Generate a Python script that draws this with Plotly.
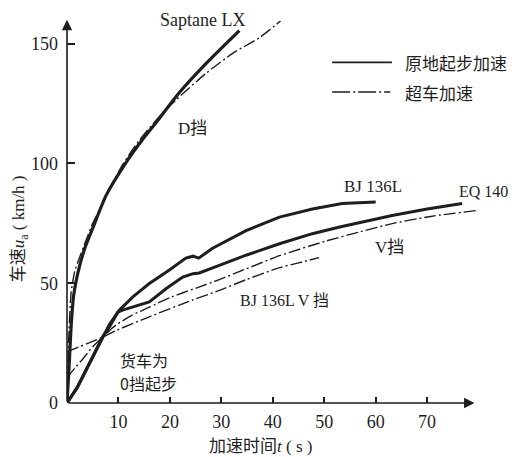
import plotly.graph_objects as go

# ---------------- data ----------------
# Saptane LX, standing-start acceleration (solid)
sapt_t = [0, 0.4, 0.8, 1.3, 2.4, 3.6, 5, 7.6, 11.5, 14.5, 17.3, 21.8, 27, 33.5]
sapt_v = [0, 15, 32, 45, 56.8, 65.5, 73, 86.7, 100.5, 109.5, 117, 129.5, 141.7, 155.5]
# Saptane LX, D gear overtaking acceleration (dash-dot)
saptd_t = [0, 0.3, 0.8, 1.5, 2.4, 3.7, 5, 6.3, 8, 10.8, 14, 17.5, 21.2, 27, 32.2, 37.4, 41.5]
saptd_v = [0, 25, 46, 55, 60.5, 68, 75, 80.5, 88, 99.5, 109.5, 118.5, 126.6, 137.6, 146, 152.5, 159.5]
# BJ 136L standing start (solid)
bj_t = [0, 2, 4.4, 6.9, 8.3, 10.2, 12.8, 16, 19.9, 23.1, 24.5, 25.6, 28.3, 34.8, 41.3, 47.7, 53.5, 60]
bj_v = [0, 6.5, 16.7, 27.6, 33, 38.8, 44.3, 49.9, 55.5, 60.5, 61.3, 60.5, 64.6, 72, 77.6, 81, 83.3, 83.9]
# EQ 140 standing start (solid)
eq_t = [0, 2, 4.4, 6.9, 8.3, 9.9, 10.8, 12.8, 14.5, 16, 19.3, 22.5, 24.5, 25.7, 29.6, 34.8, 41.3, 47.7, 53, 63.2, 70, 76.8]
eq_v = [0, 6.5, 16.7, 27.6, 32, 38, 38.8, 40, 41, 42.2, 47.8, 52.6, 54, 54.3, 57.5, 61.7, 66.5, 70.7, 73.5, 78.3, 81, 83.3]
# EQ 140 V gear overtaking (dash-dot)
eqv_t = [0, 1.5, 3.1, 5, 6.9, 9.5, 12.5, 16, 20, 25.1, 29.6, 34.8, 41.3, 50.3, 57, 63.2, 71, 79.7]
eqv_v = [10.5, 14.5, 18.5, 23.5, 27.5, 32.5, 36.5, 40, 44, 48, 51.5, 56, 61.5, 67.6, 71.5, 74.9, 78, 80.4]
# BJ 136L V gear overtaking (dash-dot)
bjv_t = [0, 6.9, 9.5, 16, 24.4, 29.6, 34.8, 41.3, 45, 49]
bjv_v = [21.4, 27.5, 30.2, 36, 43, 47, 51.5, 56.5, 58.5, 60.7]

x_ticks = [10, 20, 30, 40, 50, 60, 70]
y_ticks = [0, 50, 100, 150]

INK = "#1e1e1e"
DASHDOT = "12px,3px,2px,3px"
SERIF = "Liberation Serif, Noto Sans CJK SC, serif"
CJK = "Noto Sans CJK SC, sans-serif"

fig = go.Figure()

def add(t, v, width, dash="solid", shape="spline"):
    line = dict(color=INK, width=width, dash=dash, shape=shape)
    if shape == "spline":
        line["smoothing"] = 0.6
    fig.add_trace(go.Scatter(x=t, y=v, mode="lines", line=line,
                             showlegend=False, hoverinfo="skip", cliponaxis=False))

add(sapt_t, sapt_v, 3.2)
add(saptd_t, saptd_v, 1.4, DASHDOT)
add(bj_t, bj_v, 3.0, shape="linear")
add(eq_t, eq_v, 3.0, shape="linear")
add(eqv_t, eqv_v, 1.4, DASHDOT)
add(bjv_t, bjv_v, 1.4, DASHDOT)

X_MAX, Y_MAX = 83, 162

ann = []
# axis arrows
ann.append(dict(x=79.2, y=0, ax=0, ay=0, xref="x", yref="y", axref="x", ayref="y",
                text="", showarrow=True, arrowhead=2, arrowsize=1.3, arrowwidth=1.6, arrowcolor=INK))
ann.append(dict(x=0, y=160, ax=0, ay=0, xref="x", yref="y", axref="x", ayref="y",
                text="", showarrow=True, arrowhead=2, arrowsize=1.3, arrowwidth=1.6, arrowcolor=INK))

def label(x, y, text, size=17, xanchor="center", font=SERIF):
    ann.append(dict(x=x, y=y, xref="x", yref="y", text=text, showarrow=False,
                    xanchor=xanchor, yanchor="middle", align="left",
                    font=dict(family=font, size=size, color=INK)))

label(26.4, 160, "Saptane LX", size=18)
label(24.3, 114.8, "D挡")
label(59.5, 90.2, "BJ 136L")
label(81.0, 88.5, "EQ 140", size=16)
label(62.6, 65.1, "V挡")
label(42.2, 43, "BJ 136L V 挡", size=16)
label(9.9, 18.0, "货车为", size=16, xanchor="left", font=CJK)
label(9.9, 8.2, "0挡起步", size=16, xanchor="left", font=CJK)

# axis titles
ann.append(dict(x=-0.108, y=0.45, xref="paper", yref="paper", textangle=-90,
                xanchor="center", yanchor="middle",
                text="车速<i>u</i><sub>a</sub> ( km/h )", showarrow=False,
                font=dict(family=SERIF, size=17, color=INK)))
ann.append(dict(x=0.454, y=-0.113, xref="paper", yref="paper",
                xanchor="center", yanchor="middle",
                text="加速时间<i>t</i> ( s )", showarrow=False,
                font=dict(family=SERIF, size=17, color=INK)))

# custom legend (sample lines + text)
leg_y = [0.878, 0.8015]
shapes = [
    dict(type="line", xref="paper", yref="paper", x0=0.621, x1=0.761, y0=leg_y[0], y1=leg_y[0],
         line=dict(color=INK, width=1.8)),
    dict(type="line", xref="paper", yref="paper", x0=0.621, x1=0.757, y0=leg_y[1], y1=leg_y[1],
         line=dict(color=INK, width=1.6, dash="18px,3px,2px,3px")),
]
ann.append(dict(x=0.787, y=leg_y[0], xref="paper", yref="paper", text="原地起步加速",
                showarrow=False, xanchor="left", yanchor="middle",
                font=dict(family=CJK, size=17, color=INK)))
ann.append(dict(x=0.787, y=leg_y[1], xref="paper", yref="paper", text="超车加速",
                showarrow=False, xanchor="left", yanchor="middle",
                font=dict(family=CJK, size=17, color=INK)))

# the page body adds an 8px margin, so the figure is 8px smaller and shifted accordingly
fig.update_layout(
    width=512, height=449,
    margin=dict(l=59, r=26, t=7, b=54),
    paper_bgcolor="white", plot_bgcolor="white",
    showlegend=False,
    annotations=ann, shapes=shapes,
    xaxis=dict(range=[0, X_MAX], tickvals=x_ticks, ticktext=[str(v) for v in x_ticks],
               ticks="inside", ticklen=6, tickwidth=1.5, tickcolor=INK,
               showline=False, showgrid=False, zeroline=False, ticklabelstandoff=6,
               tickfont=dict(family=SERIF, size=18, color=INK)),
    yaxis=dict(range=[0, Y_MAX], tickvals=y_ticks, ticktext=[str(v) for v in y_ticks],
               ticks="inside", ticklen=8, tickwidth=1.5, tickcolor=INK,
               showline=False, showgrid=False, zeroline=False, ticklabelstandoff=8,
               tickfont=dict(family=SERIF, size=18, color=INK)),
)

fig.write_html("out.html")
